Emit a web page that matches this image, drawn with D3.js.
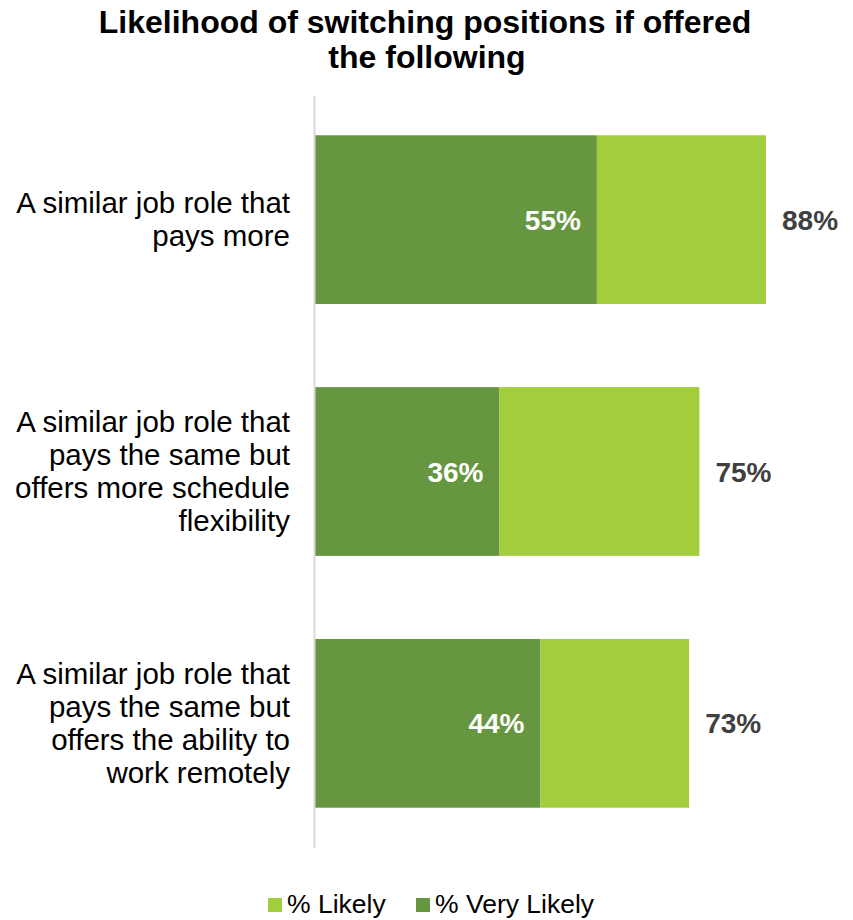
<!DOCTYPE html>
<html>
<head>
<meta charset="utf-8">
<script src="https://cdn.jsdelivr.net/npm/d3@7"></script>
<style>
  body { margin: 0; background: #fff; }
  text { font-family: "Liberation Sans", Arial, sans-serif; }
</style>
</head>
<body>
<svg id="chart" width="853" height="920"></svg>
<script>
// data
const categories = [
  "A similar job role that\npays more",
  "A similar job role that\npays the same but\noffers more schedule\nflexibility",
  "A similar job role that\npays the same but\noffers the ability to\nwork remotely"
];
const veryLikely = [55, 36, 44];
const likely = [33, 39, 29];   // light segment, total = veryLikely + likely
const totals = [88, 75, 73];
const seriesNames = ["% Likely", "% Very Likely"];

const colDark = "#669640";
const colLight = "#a2cd3c";

const svg = d3.select("#chart");

const x = d3.scaleLinear().domain([0, 100]).range([315, 827.5]);
const y = d3.scaleBand()
  .domain(categories)
  .range([95, 848])
  .paddingInner(0.33)
  .paddingOuter(0.16);

const rows = categories.map((c, i) => ({ cat: c, vl: veryLikely[i], l: likely[i], tot: totals[i] }));

// title
const title = svg.append("text")
  .attr("text-anchor", "middle")
  .style("font-size", "32px")
  .style("font-weight", "bold")
  .style("fill", "#000");
title.append("tspan").attr("x", 425).attr("y", 33).text("Likelihood of switching positions if offered");
title.append("tspan").attr("x", 427).attr("y", 68).text("the following");

// bars
const g = svg.append("g");
g.selectAll(".dark")
  .data(rows)
  .enter().append("rect")
  .attr("x", x(0))
  .attr("y", d => y(d.cat))
  .attr("width", d => x(d.vl) - x(0))
  .attr("height", y.bandwidth())
  .style("fill", colDark);

g.selectAll(".light")
  .data(rows)
  .enter().append("rect")
  .attr("x", d => x(d.vl))
  .attr("y", d => y(d.cat))
  .attr("width", d => x(d.vl + d.l) - x(d.vl))
  .attr("height", y.bandwidth())
  .style("fill", colLight);

// y axis (just the line)
const yAxis = svg.append("g")
  .attr("transform", `translate(${x(0) - 1},0)`)
  .call(d3.axisLeft(y).tickSize(0).tickSizeOuter(0).tickFormat(""));
yAxis.select(".domain").attr("stroke", "#d9d9d9").attr("stroke-width", 2);

// category labels
rows.forEach(d => {
  const lines = d.cat.split("\n");
  const mid = y(d.cat) + y.bandwidth() / 2;
  const t = svg.append("text")
    .attr("text-anchor", "end")
    .style("font-size", "29.5px")
    .style("fill", "#000");
  lines.forEach((ln, j) => {
    t.append("tspan")
      .attr("x", 290)
      .attr("y", mid + (j - (lines.length - 1) / 2) * 33 + 10)
      .text(ln);
  });
});

// value labels
g.selectAll(".vl-label")
  .data(rows)
  .enter().append("text")
  .attr("x", d => x(d.vl) - 16)
  .attr("y", d => y(d.cat) + y.bandwidth() / 2)
  .attr("dy", "0.36em")
  .attr("text-anchor", "end")
  .style("font-size", "28px")
  .style("font-weight", "bold")
  .style("fill", "#fff")
  .text(d => d.vl + "%");

g.selectAll(".tot-label")
  .data(rows)
  .enter().append("text")
  .attr("x", d => x(d.tot) + 16)
  .attr("y", d => y(d.cat) + y.bandwidth() / 2)
  .attr("dy", "0.36em")
  .style("font-size", "28px")
  .style("font-weight", "bold")
  .style("fill", "#404040")
  .text(d => d.tot + "%");

// legend
const legend = svg.append("g");
const legX = [268, 416];
[colLight, colDark].forEach((c, i) => {
  legend.append("rect")
    .attr("x", legX[i]).attr("y", 898)
    .attr("width", 14).attr("height", 14)
    .style("fill", c);
  legend.append("text")
    .attr("x", legX[i] + 19).attr("y", 913)
    .style("font-size", "26.5px")
    .style("fill", "#000")
    .text(seriesNames[i]);
});
</script>
</body>
</html>
